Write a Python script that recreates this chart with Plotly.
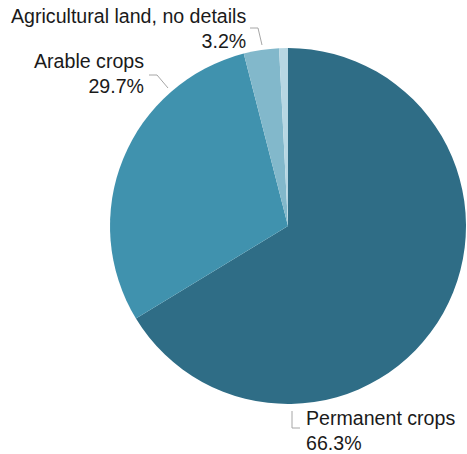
import plotly.graph_objects as go

W, H = 467, 454

categories = ["Permanent crops", "Arable crops", "Agricultural land, no details", "Other"]
values = [66.3, 29.7, 3.2, 0.8]
colors = ["#2f6d86", "#4092ae", "#82b8cb", "#b7d7e3"]
shown_labels = [True, True, True, False]

def px(x):
    return min(max(x / W, 0), 1)

def py(y):
    return min(max(1 - y / H, 0), 1)

fig = go.Figure(go.Pie(
    labels=categories,
    values=values,
    sort=False,
    direction="clockwise",
    rotation=0,
    textinfo="none",
    hoverinfo="label+percent",
    marker=dict(colors=colors, line=dict(width=0)),
    domain=dict(x=[px(110), px(466)], y=[py(404.5), py(47.5)]),
    showlegend=False,
))

# label placements (text anchor, alignment) and leader-line paths in pixels
label_pos = {
    "Permanent crops": dict(x=304, y=430, xanchor="left", align="left"),
    "Arable crops": dict(x=146, y=74, xanchor="right", align="right"),
    "Agricultural land, no details": dict(x=248, y=28, xanchor="right", align="right"),
}
leaders = {
    "Permanent crops": [(292, 411), (292, 428), (300, 428)],
    "Arable crops": [(149, 75), (157, 75), (168, 88)],
    "Agricultural land, no details": [(250, 28), (258, 28), (262, 45)],
}

annotations = []
shapes = []
for cat, val, show in zip(categories, values, shown_labels):
    if not show:
        continue
    p = label_pos[cat]
    annotations.append(dict(
        text=f"{cat}<br>{val:.1f}%",
        x=px(p["x"]), y=py(p["y"]), xref="paper", yref="paper",
        xanchor=p["xanchor"], yanchor="middle", align=p["align"],
        showarrow=False,
        font=dict(family="Liberation Sans, Arial, sans-serif", size=19.6, color="#1a1a1a"),
    ))
    pts = leaders[cat]
    path = "M " + " L ".join(f"{px(a)},{py(b)}" for a, b in pts)
    shapes.append(dict(type="path", path=path, xref="paper", yref="paper",
                       line=dict(color="#a6a6a6", width=1)))

fig.update_layout(
    width=W, height=H,
    margin=dict(l=0, r=0, t=0, b=0),
    paper_bgcolor="white",
    plot_bgcolor="white",
    annotations=annotations,
    shapes=shapes,
)

fig.write_html(
    "out.html",
    config={"displayModeBar": False},
    post_script="document.body.style.margin='0';document.body.style.overflow='hidden';",
)
